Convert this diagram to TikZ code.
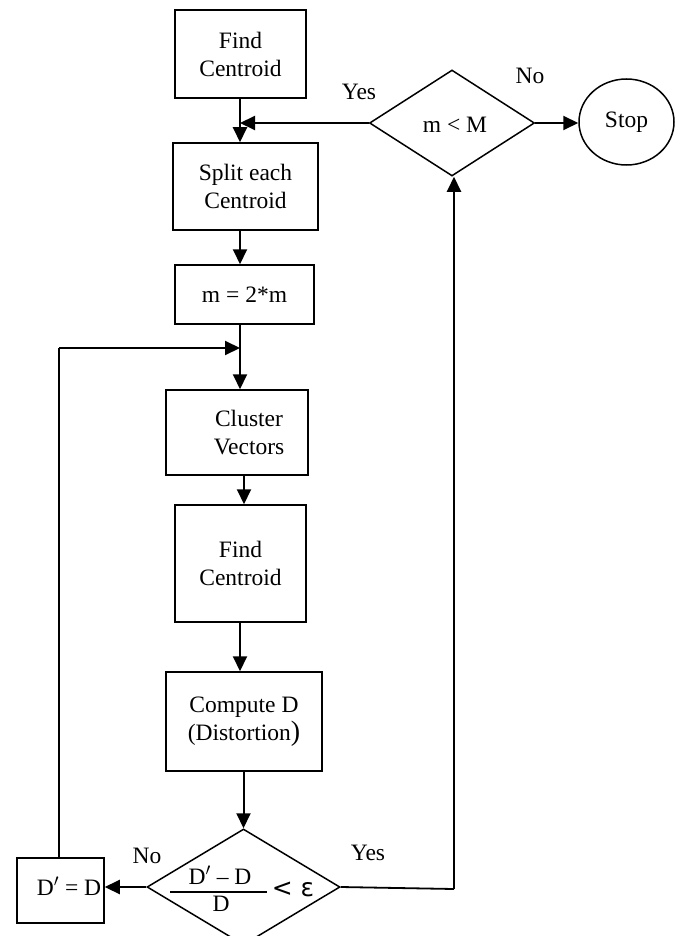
\documentclass[tikz,border=0pt]{standalone}
\usepackage{fontspec}
\setmainfont{Liberation Serif}
\newfontfamily\symfont{DejaVu Sans}
\usetikzlibrary{arrows.meta,shapes.geometric}
\begin{document}
\begin{tikzpicture}[x=1pt,y=-1pt,
  txt/.style={font=\fontsize{23.5}{28}\selectfont},
  box/.style={txt,draw,line width=1.5pt,rectangle,inner sep=0pt,align=center},
  dia/.style={draw,line width=1.5pt,diamond,inner sep=0pt},
  arr/.style={line width=2pt,-{Triangle[length=15pt,width=14pt]}},
  ln/.style={line width=1.8pt}]
\clip (0,0) rectangle (683,936);
\fill[white] (0,0) rectangle (683,936);
\coordinate (colx) at (240,0);
% boxes
\node[box,minimum width=131pt,minimum height=88pt] (f1) at (240.5,54) {Find\\Centroid};
\node[box,minimum width=145pt,minimum height=87pt] (split) at (245.5,186.5) {Split each\\Centroid};
\node[box,minimum width=139pt,minimum height=59pt] (m2) at (244.5,294.5) {m = 2*m};
\node[box,minimum width=142pt,minimum height=85pt] (cl) at (237,432.5) {\hspace*{24pt}Cluster\\\hspace*{24pt}Vectors};
\node[box,minimum width=131pt,minimum height=117pt] (f2) at (240.5,563.5) {Find\\Centroid};
\node[box,minimum width=156pt,minimum height=99pt] (cd) at (244,721.5) {Compute D\\(Distortion{\fontsize{28}{28}\selectfont )}};
\node[box,minimum width=87pt,minimum height=65pt] (dd) at (60.5,890.5) {};
\node[txt] (ddt) at (69,886) {D$'$ = D};
% decisions
\node[dia,minimum width=165pt,minimum height=106pt] (d1) at (452,123) {};
\node[txt] (d1t) at (455,125) {m {\textless} M};
\node[dia,minimum width=193pt,minimum height=116pt] (d2) at (243.5,887) {};
\node[txt,inner sep=0pt] (num) at (220,875) {D$'$ – D};
\node[txt,inner sep=0pt] (den) at (221,904) {D};
\node[font=\symfont\fontsize{25}{28}\selectfont,inner sep=0pt] (eps) at (293,889) {< ε};
\coordinate (barl) at (170,892);
\coordinate (barr) at (267,892);
\draw[line width=1.5pt] (barl) -- (barr);
% stop
\node[txt,draw,line width=1.5pt,ellipse,minimum width=95pt,minimum height=86pt,inner sep=0pt] (stop) at (626.5,122) {Stop};
% labels
\node[txt] (yes1) at (359,92) {Yes};
\node[txt] (no1) at (530,76) {No};
\node[txt] (no2) at (147,856) {No};
\node[txt] (yes2) at (368,853) {Yes};
% coordinates
\coordinate (fbTop) at (59,348);
\coordinate (fbJoin) at (240,348);
\coordinate (rcorner) at (454,889);
% connectors
\draw[arr] (f1.south -| colx) -- (split.north -| colx);
\draw[arr] (d1.west) -- (d1.west -| colx);
\draw[arr] (split.south -| colx) -- (m2.north -| colx);
\draw[arr] (m2.south -| colx) -- (cl.north -| colx);
\draw[ln] (dd.north -| fbTop) -- (fbTop);
\draw[arr] (fbTop) -- (fbJoin);
\draw[arr] (cl.south -| 244,0) -- (f2.north -| 244,0);
\draw[arr] (f2.south -| colx) -- (cd.north -| colx);
\draw[arr] (cd.south -| 243.5,0) -- (d2.north);
\draw[arr] (d2.west) -- (d2.west -| dd.east);
\draw[ln] (d2.east) -- (rcorner);
\draw[arr] (rcorner) -- (d1.south -| rcorner);
\draw[arr] (d1.east) -- (d1.east -| stop.west);
\end{tikzpicture}
\end{document}
